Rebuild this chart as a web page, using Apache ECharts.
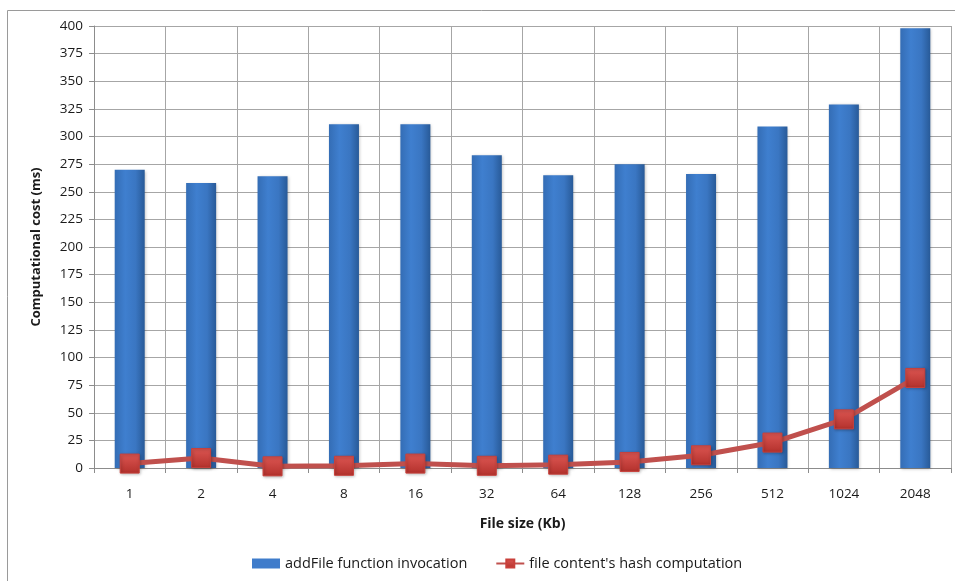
<!DOCTYPE html>
<html>
<head>
<meta charset="utf-8">
<script src="https://cdn.jsdelivr.net/npm/echarts@6/dist/echarts.min.js"></script>
<style>html,body{margin:0;padding:0;background:#fff}#c{width:955px;height:581px}</style>
</head>
<body>
<div id="c"></div>
<script>
const categories = ['1','2','4','8','16','32','64','128','256','512','1024','2048'];
const addFileInvocation = [270, 258, 264, 311, 311, 283, 265, 275, 266, 309, 329, 398];
const hashComputation = [4, 9, 1.5, 2, 4, 2, 3, 5.5, 11.5, 23, 44, 81.5];
const yTicks = {min: 0, max: 400, interval: 25};

const chart = echarts.init(document.getElementById('c'));
const font = 'Open Sans';
chart.setOption({
  animation: false,
  graphic: [{
    type: 'rect', shape: {x: 7.5, y: 10.5, width: 960, height: 600},
    style: {fill: 'none', stroke: '#9a9a9a', lineWidth: 1}, z: -1
  }],
  grid: {left: 94, top: 26, right: 4, bottom: 113},
  legend: {
    bottom: 5, left: 247, itemGap: 28,
    textStyle: {fontFamily: font, fontSize: 14.5, color: '#1a1a1a'},
    data: [
      {name: 'addFile function invocation', icon: 'rect', itemStyle: {color: '#3f7ccb'}},
      {name: "file content's hash computation"}
    ],
    itemWidth: 28, itemHeight: 10
  },
  xAxis: {
    type: 'category', data: categories, boundaryGap: true,
    name: 'File size (Kb)', nameLocation: 'middle', nameGap: 49,
    nameTextStyle: {fontFamily: font, fontSize: 14, fontWeight: 'bold', color: '#1a1a1a'},
    axisLine: {lineStyle: {color: '#8c8c8c'}},
    axisTick: {show: true, length: 5, lineStyle: {color: '#8c8c8c'}},
    axisLabel: {fontFamily: font, fontSize: 13.5, color: '#1a1a1a', margin: 19},
    splitLine: {show: true, lineStyle: {color: '#a6a6a6', width: 1}}
  },
  yAxis: {
    type: 'value', min: yTicks.min, max: yTicks.max, interval: yTicks.interval,
    name: 'Computational cost (ms)', nameLocation: 'middle', nameGap: 51, nameRotate: 90,
    nameTextStyle: {fontFamily: font, fontSize: 13, fontWeight: 'bold', color: '#1a1a1a'},
    axisLine: {show: true, lineStyle: {color: '#8c8c8c'}},
    axisTick: {show: true, length: 5, lineStyle: {color: '#8c8c8c'}},
    axisLabel: {fontFamily: font, fontSize: 13.5, color: '#1a1a1a', margin: 11},
    splitLine: {show: true, lineStyle: {color: '#a6a6a6', width: 1}}
  },
  series: [
    {
      name: 'addFile function invocation', type: 'bar', data: addFileInvocation,
      barWidth: 30,
      itemStyle: {
        color: new echarts.graphic.LinearGradient(0, 0, 1, 0, [
          {offset: 0, color: '#346db5'},
          {offset: 0.35, color: '#3f7fcf'},
          {offset: 0.7, color: '#3a76c2'},
          {offset: 1, color: '#285a98'}
        ]),
        borderWidth: 0,
        shadowColor: 'rgba(0,0,0,0.25)', shadowBlur: 3, shadowOffsetX: 1, shadowOffsetY: 1
      }
    },
    {
      name: "file content's hash computation", type: 'line', data: hashComputation,
      symbol: 'rect', symbolSize: 19,
      lineStyle: {color: '#c0504d', width: 5},
      itemStyle: {
        color: new echarts.graphic.LinearGradient(0, 0, 0, 1, [
          {offset: 0, color: '#dc5652'},
          {offset: 1, color: '#b3312c'}
        ]),
        borderColor: '#c9403b', borderWidth: 1,
        shadowColor: 'rgba(0,0,0,0.3)', shadowBlur: 3, shadowOffsetX: 1, shadowOffsetY: 1
      },
      z: 5
    }
  ]
});
</script>
</body>
</html>
